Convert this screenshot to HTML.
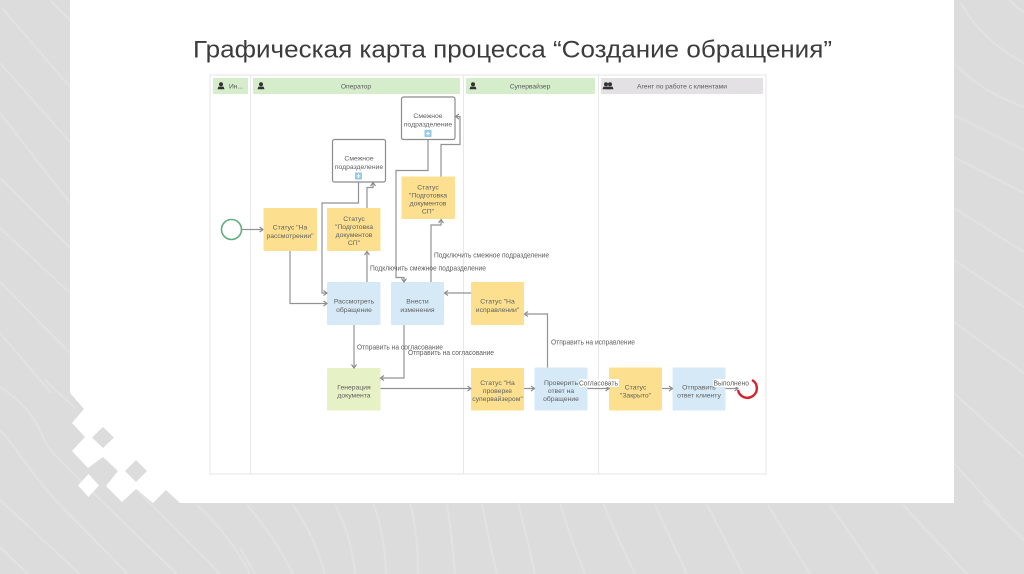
<!DOCTYPE html>
<html><head><meta charset="utf-8"><style>
html,body{margin:0;padding:0;background:#dcdcdc}
svg{display:block}
text{font-family:"Liberation Sans",sans-serif}
</style></head><body>
<svg width="1024" height="574" viewBox="0 0 1024 574" xmlns="http://www.w3.org/2000/svg">
<defs>
<filter id="b" x="-5%" y="-5%" width="110%" height="110%"><feGaussianBlur stdDeviation="0.3"/></filter>
<filter id="s" x="-5%" y="-5%" width="110%" height="110%"><feGaussianBlur stdDeviation="0.5"/></filter>
<marker id="a" markerWidth="7" markerHeight="7" refX="5" refY="3" orient="auto" markerUnits="userSpaceOnUse"><path d="M1.500 0.500L5 3L1.500 5.500" fill="none" stroke="#8a8a8a" stroke-width="1.100"/></marker>
<g id="p"><circle cx="0" cy="-1.700" r="2" fill="#333"/><path d="M-3.500 3.200L-2.600 0.600H2.600L3.500 3.200Z" fill="#333"/></g>
</defs>
<rect width="1024" height="574" fill="#dcdcdc"/>
<g fill="none" stroke="#e4e4e4" stroke-width="1.600" filter="url(#s)">
<path d="M2 8L70 87"/>
<path d="M50 0L70 20"/>
<path d="M0 63L70 142"/>
<path d="M0 113L70 203"/>
<path d="M0 178L70 248"/>
<path d="M0 228L70 293"/>
<path d="M0 282L70 353"/>
<path d="M0 333L57 400"/>
<path d="M197 505Q230 535 250 574"/>
<path d="M247 505Q275 537 293 574"/>
<path d="M293 505Q315 537 325 574"/>
<path d="M335 505Q352 537 355 574"/>
<path d="M373 503Q385 533 386 574"/>
<path d="M410 503Q418 533 418 574"/>
<path d="M447 503Q452 537 455 574"/>
<path d="M482 503Q488 537 497 574"/>
<path d="M518 503Q527 537 535 574"/>
<path d="M560 503Q570 537 585 574"/>
<path d="M603 503Q617 537 635 574"/>
<path d="M240 548L255 574"/>
<path d="M655 505L687 574"/>
<path d="M707 505L743 574"/>
<path d="M768 505L810 574"/>
<path d="M830 505L878 574"/>
<path d="M903 505L967 574"/>
<path d="M983 500L1024 540"/>
<path d="M961 3Q981 40 1024 63"/>
<path d="M1009 0L1024 13"/>
<path d="M954 63Q981 92 1024 107"/>
<path d="M954 115L1024 150"/>
<path d="M954 157L1024 193"/>
<path d="M954 208L1024 252"/>
<path d="M954 260L1024 307"/>
<path d="M954 322L1024 373"/>
<path d="M954 393L1024 457"/>
<path d="M954 463L1000 514"/>
</g>
<rect x="70" y="0" width="884" height="503" fill="#fff"/>
<path d="M70 393L84 409L72 423L85 437L72 451L88 468L103 457L118 471L106 486L122 502L136 489L153 503L166 490L180 503V574H0V393Z" fill="#dcdcdc"/>
<g fill="none" stroke="#e4e4e4" stroke-width="1.600" filter="url(#s)">
<path d="M0 387C20 400 33 413 43 437C48 450 60 460 80 480L177 574"/>
<path d="M0 430C15 445 33 477 60 505L128 574"/>
<path d="M0 500L80 574"/>
<path d="M0 547L28 574"/>
<path d="M45 380L75 408"/>
<path d="M137 490L220 574"/>
</g>
<path d="M88.500 474L99 485.500L88.500 497L78 485.500Z" fill="#fff"/>
<path d="M103 427L114 437.500L103 448L92 437.500Z" fill="#dcdcdc"/>
<path d="M136 460L147 471L136 482L125 471Z" fill="#dcdcdc"/>

<text x="512.500" y="57.500" font-size="24" fill="#3c3c3c" text-anchor="middle" textLength="639" lengthAdjust="spacingAndGlyphs">Графическая карта процесса “Создание обращения”</text>

<g filter="url(#b)">
<rect x="210" y="75" width="556" height="399" fill="#fff" stroke="#e6e6e6"/>
<path d="M250.500 75V474M463.500 75V474M598.500 75V474" stroke="#e8e8e8" stroke-width="1"/>
<rect x="213" y="78" width="35" height="16" fill="#d6edcc"/>
<rect x="253" y="78" width="207" height="16" fill="#d6edcc"/>
<rect x="466" y="78" width="129" height="16" fill="#d6edcc"/>
<rect x="601" y="78" width="162" height="16" fill="#e3e1e3"/>
<use href="#p" x="221" y="86"/><use href="#p" x="261" y="86"/><use href="#p" x="473" y="86"/>
<use href="#p" x="606" y="86"/><use href="#p" x="610" y="86"/>
<g font-size="6.700" fill="#5a5a5a" text-anchor="middle">
<text x="236" y="88.500">Ин...</text>
<text x="356" y="88.500">Оператор</text>
<text x="530" y="88.500">Супервайзер</text>
<text x="682" y="88.500">Агент по работе с клиентами</text>
</g>

<circle cx="231.500" cy="229.500" r="10" fill="#fff" stroke="#5fae7c" stroke-width="1.600"/>
<path d="M752 380A9.500 9.500 0 1 1 738 390" fill="none" stroke="#d5202e" stroke-width="2.400"/>

<g fill="#fce08f">
<rect x="263.500" y="208" width="53.500" height="43" rx="1"/>
<rect x="327" y="208" width="53.500" height="43" rx="1"/>
<rect x="401.500" y="176.500" width="53.500" height="42.500" rx="1"/>
<rect x="471" y="282" width="53" height="43" rx="1"/>
<rect x="471" y="368" width="53" height="42.500" rx="1"/>
<rect x="609" y="367.500" width="53" height="43" rx="1"/>
</g>
<g fill="#d6e9f6">
<rect x="327" y="282" width="53.500" height="43" rx="1"/>
<rect x="391" y="282" width="53" height="43" rx="1"/>
<rect x="534.500" y="367.500" width="53" height="43" rx="1"/>
<rect x="672.500" y="367.500" width="53" height="43" rx="1"/>
</g>
<rect x="327" y="368" width="53.500" height="42.500" rx="1" fill="#e7f1c6"/>
<g fill="#fff" stroke="#8c8c8c" stroke-width="1.200">
<rect x="332.500" y="139.500" width="53" height="42.500" rx="2"/>
<rect x="401.500" y="97" width="53.500" height="42.500" rx="2"/>
</g>
<g fill="#93cbe6"><rect x="355" y="172.500" width="7" height="7"/><rect x="424.500" y="130" width="7" height="7"/></g>
<path d="M356.500 176H360.500M358.500 174V178M426 133.500H430M428 131.500V135.500" stroke="#fff" stroke-width="1"/>

<g fill="none" stroke="#929292" stroke-width="1.200">
<path d="M241.500 229.500H263" marker-end="url(#a)"/>
<path d="M290 251V303.500H327" marker-end="url(#a)"/>
<path d="M358.500 182V203H322V293H327" marker-end="url(#a)"/>
<path d="M367 282V251.500" marker-end="url(#a)"/>
<path d="M367 208V187.500H373V182.500" marker-end="url(#a)"/>
<path d="M428 139.500V170.500H396V277.500H404V282" marker-end="url(#a)"/>
<path d="M441 176.500V144.500H460V116.500H455.500" marker-end="url(#a)"/>
<path d="M431 282V225H441V219.500" marker-end="url(#a)"/>
<path d="M471 293H444.500" marker-end="url(#a)"/>
<path d="M547.500 367.500V314H524.500" marker-end="url(#a)"/>
<path d="M354 325V368" marker-end="url(#a)"/>
<path d="M404 325V378H380.500" marker-end="url(#a)"/>
<path d="M380.500 388.500H471" marker-end="url(#a)"/>
<path d="M524 388.500H534.500" marker-end="url(#a)"/>
<path d="M587.500 388.500H609" marker-end="url(#a)"/>
<path d="M662 388.500H672.500" marker-end="url(#a)"/>
<path d="M725.500 388.500H738" marker-end="url(#a)"/>
</g>

<rect x="579" y="379" width="40" height="8" fill="#fff"/>
<rect x="713" y="379" width="37" height="8" fill="#fff"/>

<g font-size="6.800" fill="#606060" text-anchor="middle">
<text x="290" y="229.500">Статус "На</text><text x="290" y="238">рассмотрении"</text>
<text x="354" y="221">Статус</text><text x="354" y="229">"Подготовка</text><text x="354" y="237">документов</text><text x="354" y="245">СП"</text>
<text x="428" y="189.500">Статус</text><text x="428" y="197.500">"Подготовка</text><text x="428" y="205.500">документов</text><text x="428" y="213.500">СП"</text>
<text x="359" y="160.500">Смежное</text><text x="359" y="169">подразделение</text>
<text x="428" y="118">Смежное</text><text x="428" y="126.500">подразделение</text>
<text x="354" y="303.500">Рассмотреть</text><text x="354" y="312">обращение</text>
<text x="417.500" y="303.500">Внести</text><text x="417.500" y="312">изменения</text>
<text x="497.500" y="303.500">Статус "На</text><text x="497.500" y="312">исправлении"</text>
<text x="354" y="389.500">Генерация</text><text x="354" y="397.500">документа</text>
<text x="497.500" y="385">Статус "На</text><text x="497.500" y="393">проверке</text><text x="497.500" y="401">супервайзером"</text>
<text x="561" y="385">Проверить</text><text x="561" y="393">ответ на</text><text x="561" y="401">обращение</text>
<text x="635.500" y="389.500">Статус</text><text x="635.500" y="397.500">"Закрыто"</text>
<text x="699" y="389.500">Отправить</text><text x="699" y="397.500">ответ клиенту</text>
</g>
<g font-size="7.300" fill="#5c5c5c">
<text x="370" y="270.500" textLength="116" lengthAdjust="spacingAndGlyphs">Подключить смежное подразделение</text>
<text x="434" y="257.500" textLength="115" lengthAdjust="spacingAndGlyphs">Подключить смежное подразделение</text>
<text x="357" y="349.500" textLength="86" lengthAdjust="spacingAndGlyphs">Отправить на согласование</text>
<text x="408" y="355" textLength="86" lengthAdjust="spacingAndGlyphs">Отправить на согласование</text>
<text x="551" y="344.500" textLength="84" lengthAdjust="spacingAndGlyphs">Отправить на исправление</text>
<text x="579" y="385.500" textLength="39" lengthAdjust="spacingAndGlyphs">Согласовать</text>
<text x="713.500" y="385.500" textLength="35.500" lengthAdjust="spacingAndGlyphs">Выполнено</text>
</g>
</g>
</svg>
</body></html>
